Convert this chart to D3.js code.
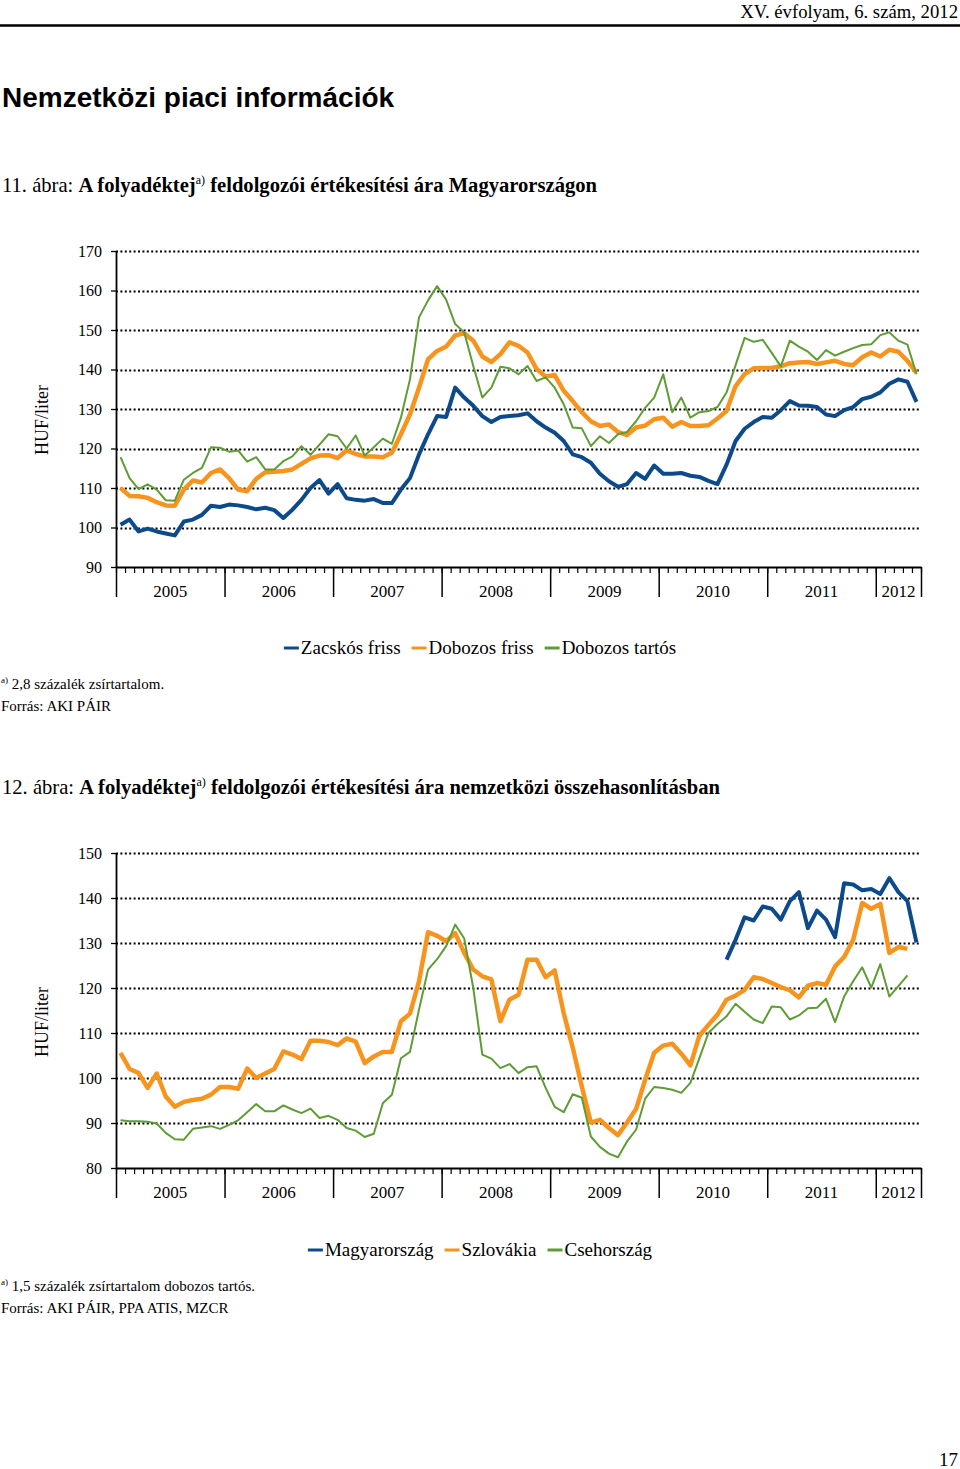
<!DOCTYPE html>
<html><head><meta charset="utf-8">
<script src="https://cdn.jsdelivr.net/npm/d3@7"></script>
<style>
body{margin:0;background:#fff}
svg{display:block}
text{font-family:"Liberation Serif","Times New Roman",serif;fill:#000}
</style>
</head><body>
<svg id="c" width="960" height="1469"></svg>
<script>
// ---------- DATA ----------
const years = ["2005","2006","2007","2008","2009","2010","2011","2012"];
const monthsInYear = [12,12,12,12,12,12,12,5];
const months = years.flatMap((y,i)=>d3.range(monthsInYear[i]).map(m=>y+"-"+String(m+1).padStart(2,"0")));

const ticks1 = [90,100,110,120,130,140,150,160,170];
const ticks2 = [80,90,100,110,120,130,140,150];

// Figure 11 (Hungary, 2.8% fat)
const zacskosFriss = [100.7,102,99,99.7,99,98.5,98,101.5,102,103.2,105.5,105.2,
 105.8,105.6,105.2,104.6,105,104.4,102.4,104.5,107,110,112,108.6,
 111,107.4,107,106.8,107.2,106.2,106.2,109.6,112.5,118.5,123.6,128.2,
 128,135.4,132.9,130.8,128.2,126.7,128,128.2,128.4,128.9,126.9,125.3,
 124,121.9,118.5,117.8,116.4,113.6,111.7,110.3,111,113.8,112.3,115.7,
 113.6,113.6,113.8,113.1,112.8,111.8,111,115.9,121.9,125,126.7,128,
 127.8,129.7,132,130.9,130.8,130.5,128.6,128.2,129.7,130.5,132.5,133.1,
 134.2,136.4,137.5,136.9,131.8];
const dobozosFriss = [110,108,107.9,107.5,106.4,105.6,105.5,109.6,111.9,111.4,113.8,114.7,
 112.5,109.6,109.2,112.3,114,114.1,114.3,114.7,116.1,117.5,118.2,118.3,
 117.6,119.5,118.6,118,118,117.8,118.9,123.6,128.6,135.4,142.6,144.7,
 145.8,148.6,149.2,147.3,143.3,141.9,143.9,146.9,146,144.3,140.1,138.2,
 138.6,134.6,132,129.2,126.9,125.7,126.1,124.2,123.4,125.3,125.8,127.4,
 127.8,125.5,126.7,125.7,125.7,125.9,127.6,129.5,135.8,138.8,140.3,140.4,
 140.4,140.8,141.6,141.8,141.9,141.4,141.8,142.2,141.4,141.1,143.1,144.3,
 143.3,145,144.5,142.2,139.2];
const dobozosTartos = [117.8,112.5,109.7,110.9,109.6,106.9,106.8,112.1,113.8,115.1,120.3,120.2,
 119.2,119.5,116.7,117.8,114.7,114.7,116.8,118,120.6,118.4,121,123.6,
 123.1,120,123.3,118.2,120.3,122.5,121.2,127.8,137.5,153.2,157.5,161.1,
 157.7,151.5,149.4,140.9,132.9,135.4,140.7,140.3,138.8,140.9,137.1,138,
 135.4,131.2,125.3,125.1,120.6,123.1,121.4,123.6,124.2,126.9,130.3,132.9,
 138.8,129.2,132.9,127.8,129.2,129.5,130.5,134.2,141.1,148,147,147.5,
 144.2,140.8,147.3,145.8,144.5,142.4,144.9,143.5,144.5,145.4,146.2,146.4,
 148.7,149.4,147.3,146.3,138.8];

// Figure 12 (international comparison, 1.5% fat UHT)
const magyarorszag = [null,null,null,null,null,null,null,null,null,null,null,null,
 null,null,null,null,null,null,null,null,null,null,null,null,
 null,null,null,null,null,null,null,null,null,null,null,null,
 null,null,null,null,null,null,null,null,null,null,null,null,
 null,null,null,null,null,null,null,null,null,null,null,null,
 null,null,null,null,null,null,null,126.3,130.7,135.7,135,138.1,
 137.6,135.2,139.3,141.3,133.3,137.2,135.2,131.3,143.3,143,141.7,142,
 140.9,144.4,141.3,139.3,130.1];
const szlovakia = [105.6,102,101.1,97.8,101,95.9,93.6,94.7,95.1,95.4,96.3,98,
 98,97.6,102.1,100,101,102,105.9,105.2,104.2,108.3,108.3,108,
 107.3,108.8,108.1,103.3,104.8,105.8,105.8,112.6,114.3,121.5,132.4,131.6,
 130.4,132.2,127.8,124.1,122.6,121.9,112.6,117.4,118.5,126.3,126.3,122.4,
 123.9,114.4,106.7,98.1,90.1,90.7,88.9,87.3,90.1,93.1,99.6,105.6,
 107.2,107.6,105.4,102.8,109.4,111.8,114.1,117.4,118.3,119.6,122.4,122,
 121.1,120.2,119.5,117.9,120.5,121.1,120.7,124.8,126.9,130.7,138.9,137.6,
 138.7,127.8,129.1,128.7,null];
const csehorszag = [90.6,90.4,90.4,90.3,89.9,87.8,86.4,86.3,88.7,89,89.3,88.7,
 89.6,90.6,92.4,94.2,92.6,92.6,93.9,93,92.2,93.2,91.1,91.6,
 90.7,88.9,88.3,86.9,87.6,94.4,96.3,104.4,105.8,115.2,124.1,126.4,
 129.3,134.1,131,120,105.2,104.3,102.2,103.1,101.1,102.4,102.6,97.8,
 93.6,92.4,96.4,95.6,87,84.7,83.2,82.4,85.9,88.5,95.4,98,
 97.8,97.4,96.7,98.9,104.4,110,112,113.7,116.5,114.7,113,112.2,
 115.9,115.7,113,113.9,115.5,115.6,117.6,112.4,118.1,121.5,124.6,120.1,
 125.3,118.1,120.4,122.8,null];

const BLUE = "#0d4a8b", ORANGE = "#f7941e", GREEN = "#5f9c35";

// ---------- DRAW ----------
const svg = d3.select("#c");
svg.append("rect").attr("width",960).attr("height",1469).attr("fill","#fff");

svg.append("text").attr("x",958).attr("y",18).attr("text-anchor","end")
  .style("font-size","18.7px").text("XV. évfolyam, 6. szám, 2012");
svg.append("line").attr("x1",0).attr("x2",960).attr("y1",25.5).attr("y2",25.5)
  .attr("stroke","#000").attr("stroke-width",2.5);
svg.append("text").attr("x",2).attr("y",107)
  .style("font-family","'Liberation Sans',Arial,sans-serif").style("font-weight","bold")
  .style("font-size","28px").text("Nemzetközi piaci információk");

function title(y, num, rest){
  const t = svg.append("text").attr("x",2).attr("y",y).style("font-size","20.6px");
  t.append("tspan").text(num+" ábra: ");
  t.append("tspan").style("font-weight","bold").text("A folyadéktej");
  t.append("tspan").attr("dy",-8).style("font-size","12px").text("a)");
  t.append("tspan").attr("dy",8).style("font-weight","bold").text(" "+rest);
}
title(192,"11.","feldolgozói értékesítési ára Magyarországon");
title(794,"12.","feldolgozói értékesítési ára nemzetközi összehasonlításban");

const L = 116, R = 921;
const x = d3.scaleBand().domain(months).range([L,R]);
const edge = d3.scaleLinear().domain([0,months.length]).range([L,R]);
const yearEdges = [0];
monthsInYear.forEach((n,i)=>yearEdges.push(yearEdges[i]+n));

function chart({top,bottom,domain,ticks,series,labelY,legendY}){
  const y = d3.scaleLinear().domain(domain).range([bottom,top]);
  const g = svg.append("g");
  // gridlines
  g.append("g").selectAll("line").data(ticks.filter(t=>t!==domain[0])).join("line")
    .attr("x1",L).attr("x2",R).attr("y1",d=>Math.round(y(d))+0.5).attr("y2",d=>Math.round(y(d))+0.5)
    .attr("stroke","#000").attr("stroke-width",2).attr("stroke-dasharray","2,2.4");
  // y axis
  const ya = g.append("g").attr("transform",`translate(${L},0)`)
    .call(d3.axisLeft(y).tickValues(ticks).tickSize(5).tickPadding(9).tickSizeOuter(0).tickFormat(d3.format("d")));
  ya.select(".domain").attr("stroke","#000").attr("stroke-width",1.8);
  ya.selectAll(".tick line").attr("stroke-width",1.3);
  ya.selectAll("text").style("font-family","'Liberation Serif',serif").style("font-size","16px").attr("fill","#000");
  // x axis minor ticks
  const xa = g.append("g").attr("transform",`translate(0,${bottom})`)
    .call(d3.axisBottom(edge).tickValues(d3.range(months.length+1)).tickSize(6).tickSizeOuter(0).tickFormat(""));
  xa.select(".domain").attr("stroke-width",1.8);
  xa.selectAll(".tick line").attr("stroke-width",1.2);
  // major ticks at year edges
  const xb = g.append("g").attr("transform",`translate(0,${bottom})`)
    .call(d3.axisBottom(edge).tickValues(yearEdges).tickSize(30).tickSizeOuter(0).tickFormat(""));
  xb.select(".domain").remove();
  xb.selectAll(".tick line").attr("stroke-width",1.5);
  // year labels
  g.append("g").selectAll("text").data(years).join("text")
    .attr("x",(d,i)=>(edge(yearEdges[i])+edge(yearEdges[i+1]))/2)
    .attr("y",bottom+30).attr("text-anchor","middle").style("font-size","17px").text(d=>d);
  // y label
  g.append("text").attr("transform",`translate(48,${labelY}) rotate(-90)`)
    .attr("text-anchor","middle").style("font-size","18px").text("HUF/liter");
  // lines
  series.forEach(s=>{
    const line = d3.line().defined(d=>d!=null)
      .x((d,i)=>x(months[i])+x.bandwidth()/2).y(d=>y(d));
    g.append("path").datum(s.values).attr("d",line).attr("fill","none")
      .attr("stroke",s.color).attr("stroke-width",s.width).attr("stroke-linejoin","round");
  });
  // legend
  const lg = g.append("g");
  const items = series.slice().sort((a,b)=>a.order-b.order).map(s=>{
    const it = lg.append("g");
    it.append("line").attr("x1",0).attr("x2",15).attr("y1",0).attr("y2",0)
      .attr("stroke",s.color).attr("stroke-width",3);
    const t = it.append("text").attr("x",17).attr("y",6).style("font-size","19px").text(s.name);
    return {it, w:17+t.node().getComputedTextLength()};
  });
  const gap = 11;
  const total = d3.sum(items,d=>d.w)+gap*(items.length-1);
  let cx = 480 - total/2;
  items.forEach(d=>{ d.it.attr("transform",`translate(${cx},${legendY})`); cx += d.w+gap; });
}

chart({top:251,bottom:567,domain:[90,170],ticks:ticks1,labelY:420,legendY:648,
  series:[
    {name:"Zacskós friss",values:zacskosFriss,color:BLUE,width:4,order:0},
    {name:"Dobozos friss",values:dobozosFriss,color:ORANGE,width:4.5,order:1},
    {name:"Dobozos tartós",values:dobozosTartos,color:GREEN,width:2,order:2}
  ]});
chart({top:853,bottom:1168,domain:[80,150],ticks:ticks2,labelY:1022,legendY:1250,
  series:[
    {name:"Magyarország",values:magyarorszag,color:BLUE,width:4,order:0},
    {name:"Szlovákia",values:szlovakia,color:ORANGE,width:4.5,order:1},
    {name:"Csehország",values:csehorszag,color:GREEN,width:2,order:2}
  ]});

function footnote(y1, note, y2, src){
  const t = svg.append("text").attr("x",1).attr("y",y1).style("font-size","15px");
  t.append("tspan").attr("dy",-6).style("font-size","9px").text("a)");
  t.append("tspan").attr("dy",6).text(" "+note);
  svg.append("text").attr("x",1).attr("y",y2).style("font-size","15px").text(src);
}
footnote(689,"2,8 százalék zsírtartalom.",711,"Forrás: AKI PÁIR");
footnote(1291,"1,5 százalék zsírtartalom dobozos tartós.",1313,"Forrás: AKI PÁIR, PPA ATIS, MZCR");

svg.append("text").attr("x",958).attr("y",1466).attr("text-anchor","end")
  .style("font-size","19px").text("17");
</script>
</body></html>
